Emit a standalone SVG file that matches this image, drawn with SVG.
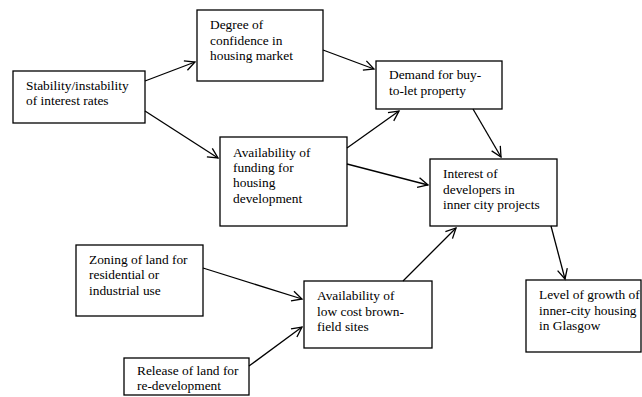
<svg xmlns="http://www.w3.org/2000/svg" width="642" height="397" viewBox="0 0 642 397">
<style>
rect{fill:#fff;stroke:#000;stroke-width:1.3}
text{font-family:'Liberation Serif','Times New Roman',serif;font-size:13.4px;fill:#000}
.c line{stroke:#000;stroke-width:1.3;marker-end:url(#a)}
</style>
<defs>
<marker id="a" markerUnits="userSpaceOnUse" markerWidth="14" markerHeight="14" refX="11" refY="6" orient="auto">
<path d="M1,1 L11,6 L1,11" fill="none" stroke="#000" stroke-width="1.3"/>
</marker>
</defs>
<rect width="642" height="397" style="stroke:none"/>
<g id="n-stability"><rect x="13" y="71" width="132" height="52"/><text x="26" y="90">Stability/instability</text><text x="26" y="105">of interest rates</text></g>
<g id="n-confidence"><rect x="197" y="10" width="126" height="71"/><text x="210" y="29">Degree of</text><text x="210" y="45">confidence in</text><text x="210" y="60">housing market</text></g>
<g id="n-funding"><rect x="220" y="137" width="127" height="89"/><text x="233" y="157">Availability of</text><text x="233" y="172">funding for</text><text x="233" y="187">housing</text><text x="233" y="203">development</text></g>
<g id="n-demand"><rect x="376" y="61" width="126" height="48"/><text x="389" y="79">Demand for buy-</text><text x="389" y="95">to-let property</text></g>
<g id="n-interest"><rect x="430" y="159" width="127" height="67"/><text x="443" y="178">Interest of</text><text x="443" y="194">developers in</text><text x="443" y="209">inner city projects</text></g>
<g id="n-zoning"><rect x="76" y="245" width="127" height="71"/><text x="89" y="264">Zoning of land for</text><text x="89" y="279">residential or</text><text x="89" y="295">industrial use</text></g>
<g id="n-release"><rect x="124" y="358" width="125" height="37"/><text x="137" y="375">Release of land for</text><text x="137" y="390">re-development</text></g>
<g id="n-brownfield"><rect x="304" y="281" width="128" height="67"/><text x="317" y="300">Availability of</text><text x="317" y="316">low cost brown-</text><text x="317" y="331">field sites</text></g>
<g id="n-growth"><rect x="526" y="280" width="115" height="72"/><text x="539" y="299">Level of growth of</text><text x="539" y="315">inner-city housing</text><text x="539" y="330">in Glasgow</text></g>
<g class="c" id="connectors">
<line x1="145" y1="81" x2="195" y2="62"/>
<line x1="145" y1="111" x2="218" y2="158"/>
<line x1="323" y1="50" x2="374" y2="69"/>
<line x1="347" y1="148" x2="399" y2="111"/>
<line x1="347" y1="164" x2="428" y2="185"/>
<line x1="473" y1="109" x2="501" y2="157"/>
<line x1="403" y1="281" x2="456" y2="228"/>
<line x1="551" y1="226" x2="565" y2="279"/>
<line x1="203" y1="268" x2="302" y2="299"/>
<line x1="249" y1="366" x2="302" y2="327"/>
</g>
</svg>
